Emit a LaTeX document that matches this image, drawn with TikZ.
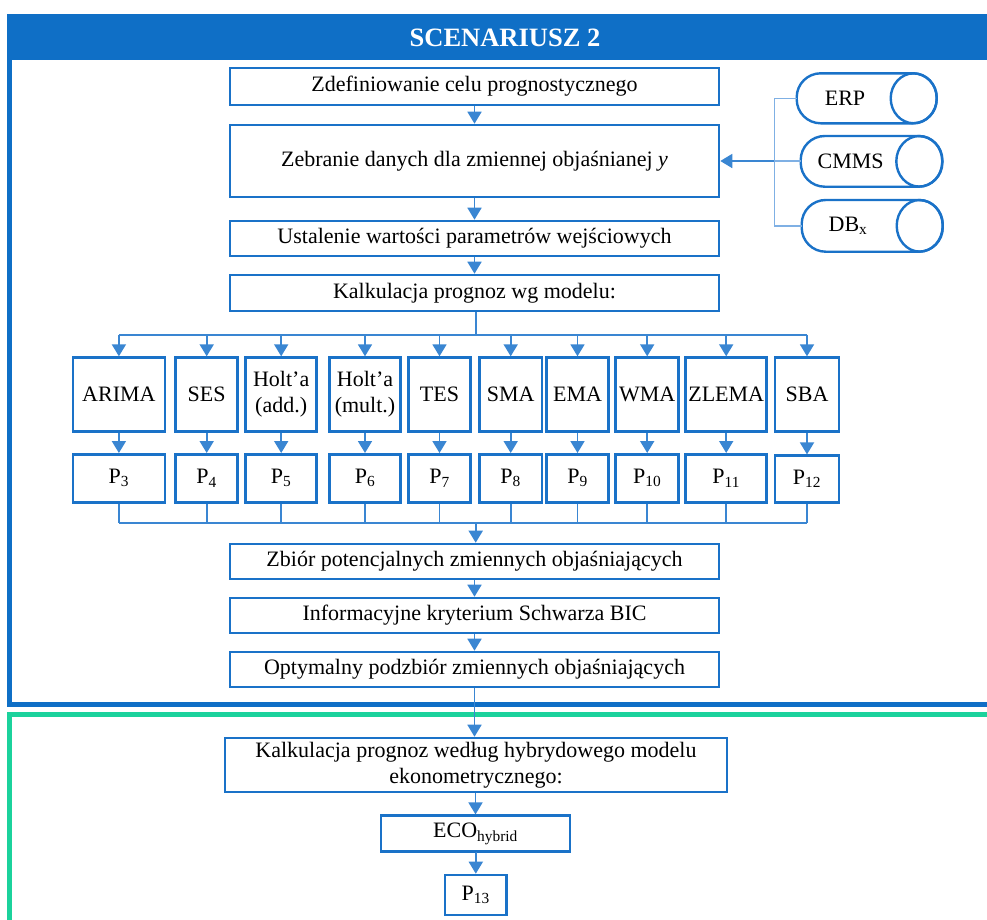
\documentclass[tikz,border=0pt]{standalone}
\usepackage{fontspec}
\setmainfont{Liberation Serif}
\usetikzlibrary{arrows.meta}
\definecolor{frameblue}{HTML}{0F6FC6}
\definecolor{boxblue}{HTML}{1A72C8}
\definecolor{linkblue}{HTML}{3A86D2}
\definecolor{lightlink}{HTML}{7FB0E4}
\definecolor{framegreen}{HTML}{1BD29C}
\tikzset{
  stepbox/.style={draw=boxblue, line width=2.6pt, fill=white, align=center,
    inner sep=0pt, font=\fontsize{22}{26}\selectfont},
  model/.style={stepbox, minimum height=74pt},
  pbox/.style={stepbox, minimum height=48pt},
  flow/.style={draw=linkblue, line width=1.8pt},
  flowarrow/.style={flow, -{Triangle[width=14pt,length=12pt]}},
  thinlink/.style={draw=lightlink, line width=1.4pt},
  cyl/.style={draw=boxblue, line width=2.4pt},
  lbl/.style={font=\fontsize{22}{26}\selectfont, inner sep=0pt},
}
\begin{document}
\begin{tikzpicture}[x=1pt,y=-1pt]
\useasboundingbox (0,0) rectangle (987,919);
\fill[white] (0,0) rectangle (987,919);

% scenario frame with header
\fill[frameblue] (6.7,14) rectangle (990,60);
\fill[frameblue] (6.7,14) rectangle (12.3,706.7);
\fill[frameblue] (6.7,701.7) rectangle (990,706.7);
\node[font=\bfseries\fontsize{26.5}{30}\selectfont, text=white] (title) at (505,38) {SCENARIUSZ 2};

% second frame
\fill[framegreen] (6.7,712.3) rectangle (990,717.3);
\fill[framegreen] (6.7,712.3) rectangle (12.3,925);

% main steps
\node[stepbox, minimum width=489pt, minimum height=37pt] (z1) at (474.5,86.5) {Zdefiniowanie celu prognostycznego};
\node[stepbox, minimum width=489pt, minimum height=72pt] (z2) at (474.5,161) {Zebranie danych dla zmiennej objaśnianej \textit{y}};
\node[stepbox, minimum width=489pt, minimum height=35pt] (z3) at (474.5,238.5) {Ustalenie wartości parametrów wejściowych};
\node[stepbox, minimum width=489pt, minimum height=36pt] (z4) at (474.5,293) {Kalkulacja prognoz wg modelu:};

% forecasting models
\node[model, minimum width=92pt] (arima) at (118.9,394.6) {ARIMA};
\node[model, minimum width=62pt] (ses) at (206.7,394.6) {SES};
\node[model, minimum width=71pt] (holtadd) at (281.2,394.6) {Holt’a\\(add.)};
\node[model, minimum width=71.4pt] (holtmult) at (365,394.6) {Holt’a\\(mult.)};
\node[model, minimum width=62.4pt] (tes) at (439.5,394.6) {TES};
\node[model, minimum width=62.7pt] (sma) at (510.7,394.6) {SMA};
\node[model, minimum width=61.6pt] (ema) at (577.5,394.6) {EMA};
\node[model, minimum width=63pt] (wma) at (647.2,394.6) {WMA};
\node[model, minimum width=81pt] (zlema) at (726.2,394.6) {ZLEMA};
\node[model, minimum width=64pt] (sba) at (807,394.6) {SBA};

% forecasts of each model
\node[pbox, minimum width=92pt] (p3) at (118.9,478.3) {P\textsubscript{3}};
\node[pbox, minimum width=62pt] (p4) at (206.7,478.3) {P\textsubscript{4}};
\node[pbox, minimum width=71pt] (p5) at (281.2,478.3) {P\textsubscript{5}};
\node[pbox, minimum width=71.4pt] (p6) at (365,478.3) {P\textsubscript{6}};
\node[pbox, minimum width=62.4pt] (p7) at (439.5,478.3) {P\textsubscript{7}};
\node[pbox, minimum width=62.7pt] (p8) at (510.7,478.3) {P\textsubscript{8}};
\node[pbox, minimum width=61.6pt] (p9) at (577.5,478.3) {P\textsubscript{9}};
\node[pbox, minimum width=63pt] (p10) at (647.2,478.3) {P\textsubscript{10}};
\node[pbox, minimum width=81pt] (p11) at (726.2,478.3) {P\textsubscript{11}};
\node[pbox, minimum width=64pt, minimum height=47pt] (p12) at (807,479.2) {P\textsubscript{12}};

% variable selection
\node[stepbox, minimum width=489pt, minimum height=35pt] (z5) at (474.5,561.5) {Zbiór potencjalnych zmiennych objaśniających};
\node[stepbox, minimum width=489pt, minimum height=35pt] (z6) at (474.5,615.5) {Informacyjne kryterium Schwarza BIC};
\node[stepbox, minimum width=489pt, minimum height=35pt] (z7) at (474.5,669.5) {Optymalny podzbiór zmiennych objaśniających};

% hybrid model
\node[stepbox, minimum width=502pt, minimum height=54pt] (hyb) at (476,765) {Kalkulacja prognoz według hybrydowego modelu\\ekonometrycznego:};
\node[stepbox, minimum width=189pt, minimum height=36pt] (eco) at (475.5,833.7) {ECO\textsubscript{hybrid}};
\node[stepbox, minimum width=61.6pt, minimum height=40pt] (p13) at (475.8,895) {P\textsubscript{13}};

% data sources (horizontal cylinders)
\coordinate (erpW) at (796.7,98.3);
\coordinate (cmmsW) at (800.7,161);
\coordinate (dbW) at (801.7,225.8);
\draw[cyl, rounded corners=24pt] (796.7,73.3) rectangle (936.7,123.3);
\draw[cyl] (913.7,98.3) ellipse [x radius=23pt, y radius=25pt];
\draw[cyl, rounded corners=24pt] (800.7,136) rectangle (942.3,186.7);
\draw[cyl] (919.3,161.3) ellipse [x radius=23pt, y radius=25.3pt];
\draw[cyl, rounded corners=24pt] (801.7,200) rectangle (942.7,251.7);
\draw[cyl] (919.7,225.8) ellipse [x radius=23pt, y radius=25.8pt];
\node[lbl] (erp) at (845,98.3) {ERP};
\node[lbl] (cmms) at (850.7,161) {CMMS};
\node[lbl] (dbx) at (848,225.8) {DB\textsubscript{x}};

\coordinate (bus) at (774.3,161);
\draw[thinlink] (erpW) -| (bus);
\draw[thinlink] (dbW) -| (bus);
\draw[thinlink] (cmmsW) -- (bus);
\draw[flowarrow] (bus) -- (z2.east);

% main flow
\draw[flowarrow] (z1.south) -- (z2.north);
\draw[flowarrow] (z2.south) -- (z3.north);
\draw[flowarrow] (z3.south) -- (z4.north);

% distribution to the models
\coordinate (top) at (475.7,334.7);
\draw[flow] (z4.south -| top) -- (top);
\draw[flow] (top -| arima.north) -- (top -| sba.north);
\foreach \m in {arima,ses,holtadd,holtmult,tes,sma,ema,wma,zlema,sba}
  \draw[flowarrow] (top -| \m.north) -- (\m.north);
\foreach \m/\p in {arima/p3,ses/p4,holtadd/p5,holtmult/p6,tes/p7,sma/p8,ema/p9,wma/p10,zlema/p11,sba/p12}
  \draw[flowarrow] (\m.south) -- (\p.north);

% collection of forecasts
\coordinate (bot) at (475.7,523.3);
\draw[flow] (bot -| p3.south) -- (bot -| p12.south);
\foreach \p in {p3,p4,p5,p6,p7,p8,p9,p10,p11,p12}
  \draw[flow] (\p.south) -- (bot -| \p.south);
\draw[flowarrow] (bot) -- (bot |- z5.north);

\draw[flowarrow] (z5.south) -- (z6.north);
\draw[flowarrow] (z6.south) -- (z7.north);
\draw[flowarrow] (z7.south) -- (z7.south |- hyb.north);
\draw[flowarrow] (hyb.south -| eco.north) -- (eco.north);
\draw[flowarrow] (eco.south) -- (eco.south -| p13.north) -- (p13.north);
\end{tikzpicture}
\end{document}
